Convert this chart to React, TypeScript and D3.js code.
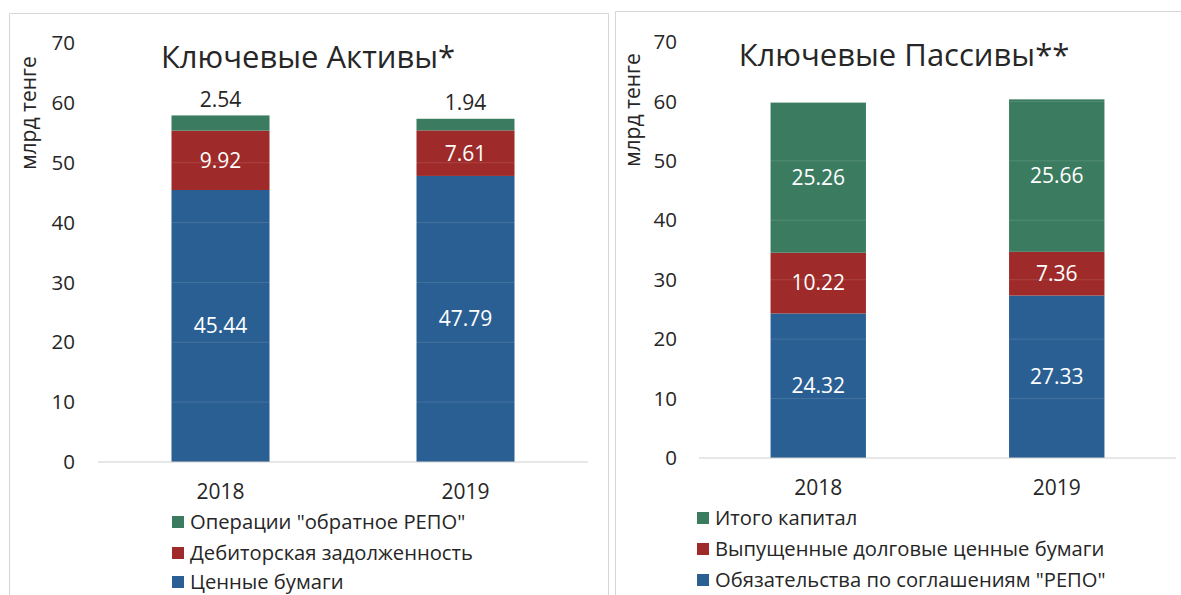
import React from "react";
import * as d3 from "d3";

const years = ["2018", "2019"];
const yTicks = [0, 10, 20, 30, 40, 50, 60, 70];

// Assets
const assetsSeries = ["Ценные бумаги", "Дебиторская задолженность", "Операции \"обратное РЕПО\""];
const assetsSecurities = [45.44, 47.79];
const assetsReceivables = [9.92, 7.61];
const assetsReverseRepo = [2.54, 1.94];

// Liabilities
const liabSeries = ["Обязательства по соглашениям \"РЕПО\"", "Выпущенные долговые ценные бумаги", "Итого капитал"];
const liabRepo = [24.32, 27.33];
const liabDebt = [10.22, 7.36];
const liabCapital = [25.26, 25.66];

const colors = ["#2a5f93", "#9e2b29", "#3b7c61"];
const FONT = "'Open Sans', 'Noto Sans', sans-serif";
const TEXT = "#262626";

type PanelProps = {
  title: string;
  seriesNames: string[];
  values: number[][];
  xRange: [number, number];
  yRange: [number, number];
  tickRight: number;
  yLabelX: number;
  yLabelY: number;
  titleX: number;
  titleY: number;
  catY: number;
  legendX: number;
  legendY: number[];
  outsideTop: boolean[];
};

function Panel(p: PanelProps) {
  const x = d3.scaleBand<string>().domain(years).range(p.xRange).paddingInner(0.6).paddingOuter(0.3);
  const y = d3.scaleLinear().domain([0, 70]).range(p.yRange);
  const rows = years.map((yr, i) => {
    const o: any = { year: yr };
    p.seriesNames.forEach((s, k) => (o[s] = p.values[k][i]));
    return o;
  });
  const stack = d3.stack<any>().keys(p.seriesNames)(rows);
  return (
    <g>
      {yTicks.map((t) => (
        <text key={t} x={p.tickRight} y={y(t)} dy="0.35em" textAnchor="end" fontSize={20.5} fill={TEXT} fontFamily={FONT}>
          {t}
        </text>
      ))}
      {stack.map((layer, k) => (
        <g key={k}>
          {layer.map((d, i) => (
            <rect
              key={i}
              x={x(years[i])}
              width={x.bandwidth()}
              y={y(d[1])}
              height={y(d[0]) - y(d[1])}
              fill={colors[k]}
            />
          ))}
        </g>
      ))}
      {yTicks.filter((t) => t > 0).map((t) => (
        <line key={t} x1={p.xRange[0]} x2={p.xRange[1]} y1={y(t)} y2={y(t)} stroke="#ffffff" strokeOpacity={0.12} strokeWidth={1} />
      ))}
      <line x1={p.xRange[0]} x2={p.xRange[1]} y1={y(0)} y2={y(0)} stroke="#cfcfcf" strokeWidth={1.2} />
      {stack.map((layer, k) =>
        layer.map((d, i) => {
          const outside = p.outsideTop[k];
          const cx = (x(years[i]) as number) + x.bandwidth() / 2;
          const cy = outside ? y(d[1]) - 16 : (y(d[0]) + y(d[1])) / 2;
          return (
            <text
              key={`${k}-${i}`}
              x={cx}
              y={cy}
              dy="0.35em"
              textAnchor="middle"
              fontSize={21}
              fill={outside ? TEXT : "#ffffff"}
              fontFamily={FONT}
            >
              {p.values[k][i].toFixed(2)}
            </text>
          );
        })
      )}
      {years.map((yr) => (
        <text
          key={yr}
          x={(x(yr) as number) + x.bandwidth() / 2}
          y={p.catY}
          dy="0.35em"
          textAnchor="middle"
          fontSize={21}
          fill={TEXT}
          fontFamily={FONT}
        >
          {yr}
        </text>
      ))}
      <text
        transform={`translate(${p.yLabelX},${p.yLabelY}) rotate(-90)`}
        dy="0.35em"
        textAnchor="middle"
        fontSize={21}
        fill={TEXT}
        fontFamily={FONT}
      >
        млрд тенге
      </text>
      <text x={p.titleX} y={p.titleY} dy="0.35em" textAnchor="middle" fontSize={31} fill={TEXT} fontFamily={FONT}>
        {p.title}
      </text>
      {[2, 1, 0].map((k, r) => (
        <g key={k}>
          <rect x={p.legendX} y={p.legendY[r] - 6} width={12} height={12} fill={colors[k]} />
          <text x={p.legendX + 18} y={p.legendY[r]} dy="0.35em" fontSize={20.2} fill={TEXT} fontFamily={FONT}>
            {p.seriesNames[k]}
          </text>
        </g>
      ))}
    </g>
  );
}

export default function App() {
  return (
    <svg width={1181} height={595} style={{ position: "absolute", left: 0, top: 0, background: "#fff" }}>
      <rect x={0} y={0} width={1181} height={595} fill="#ffffff" />
      <path d="M9.5,600 V13.5 H608.5 V600" fill="none" stroke="#d6d6d6" strokeWidth={1} />
      <path d="M615.5,600 V11.5 H1190" fill="none" stroke="#d6d6d6" strokeWidth={1} />
      <Panel
        title="Ключевые Активы*"
        seriesNames={assetsSeries}
        values={[assetsSecurities, assetsReceivables, assetsReverseRepo]}
        xRange={[98, 588]}
        yRange={[462, 43]}
        tickRight={75}
        yLabelX={29}
        yLabelY={113}
        titleX={308}
        titleY={57}
        catY={492}
        legendX={172}
        legendY={[522, 553, 582]}
        outsideTop={[false, false, true]}
      />
      <Panel
        title="Ключевые Пассивы**"
        seriesNames={liabSeries}
        values={[liabRepo, liabDebt, liabCapital]}
        xRange={[699, 1176]}
        yRange={[458, 42]}
        tickRight={677}
        yLabelX={633}
        yLabelY={110}
        titleX={904}
        titleY={55}
        catY={488}
        legendX={697}
        legendY={[518, 549, 580]}
        outsideTop={[false, false, false]}
      />
    </svg>
  );
}
